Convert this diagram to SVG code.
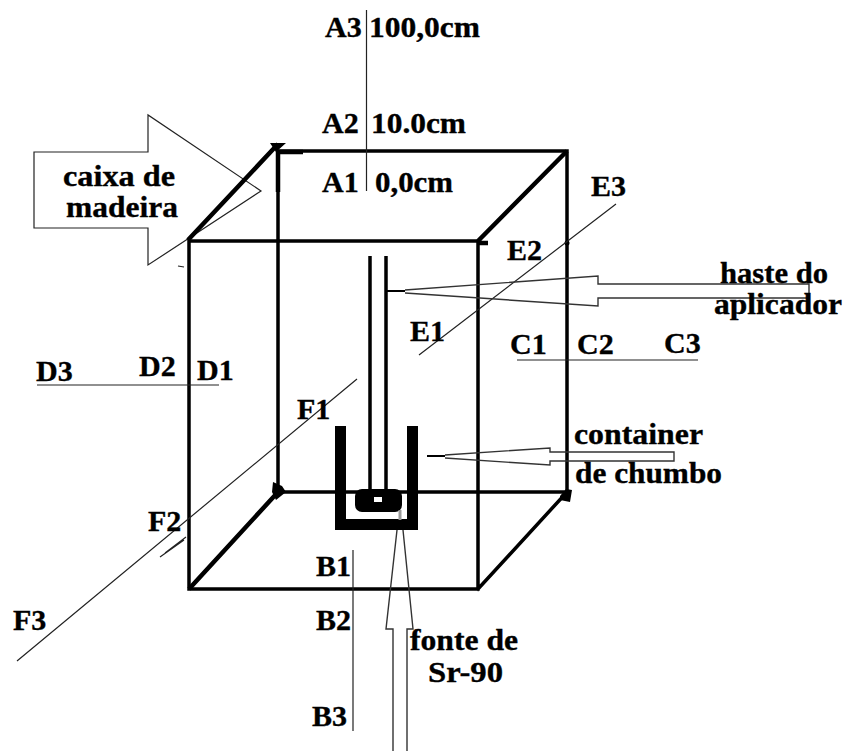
<svg xmlns="http://www.w3.org/2000/svg" width="846" height="751" viewBox="0 0 846 751">
<style>
text{font-family:"Liberation Serif","Times New Roman",serif;font-weight:bold;font-size:30px;fill:#000;stroke:#000;stroke-width:.35}
.thin{fill:none;stroke:#222;stroke-width:1.2}
.gray{fill:none;stroke:#333;stroke-width:1.4}
.box{fill:none;stroke:#000;stroke-width:3.5;stroke-linecap:square}
.heavy{fill:none;stroke:#000;stroke-width:4.500}
</style>
<rect width="846" height="751" fill="#fff"/>
<g id="caixa-arrow">
<polygon class="thin" points="34,152 148,152 148,115 261,191 148,265 148,228 34,228"/>
<text x="63" y="186" textLength="112" lengthAdjust="spacingAndGlyphs">caixa de</text>
<text x="66" y="217" textLength="112" lengthAdjust="spacingAndGlyphs">madeira</text>
</g>
<g id="box">
<path class="box" d="M278,151H567V492H278ZM189,241H478V589H189ZM478,589L567,492"/>
<path class="heavy" d="M188,240L278,144M478,241L567,151M189,589L278,492M278,151V192M278,152H303M478,243H488"/>
<path d="M270,143H286L276,152ZM273,482L282,486L286,492L276,500L272,492ZM560,496L566,489L572,490L570,502L560,500Z" fill="#000"/>
<path class="thin" d="M178,266L184,267"/>
<circle cx="567" cy="243" r="2.5" fill="#000"/>
</g>
<g id="applicator">
<path d="M370,256V490M386,256V490" fill="none" stroke="#000" stroke-width="3.5"/>
</g>
<g id="container">
<path d="M335,426H346V519H407V426H418V530H335Z" fill="#000"/>
</g>
<g id="source">
<rect x="355" y="489" width="47" height="23" rx="7" fill="#000"/>
<rect x="374" y="497" width="8" height="5" fill="#fff"/>
<path d="M400,510V520" stroke="#999" stroke-width="3" fill="none"/>
</g>
<g id="connectors">
<path class="thin" d="M366.500,10V191M37,385H219M517,360H698M616,204L419,355M357,379L17,661M353,550V731" />
<path class="thin" d="M160,557L184,540M165,553L186,537"/>
<path d="M386,291H405M427,456H445" stroke="#000" stroke-width="2" fill="none"/>
<path class="gray" d="M405,290L598,276V284H809V298H598V306L405,293"/>
<path class="gray" d="M445,455L550,448V452H674V461H550V465L445,458"/>
<path class="gray" d="M397,530L386,629H393V751M407,751V629H413L403,530"/>
</g>
<g id="labels">
<text x="325" y="37">A3</text><text x="369" y="37" textLength="111" lengthAdjust="spacingAndGlyphs">100,0cm</text>
<text x="322" y="133">A2</text><text x="371" y="133" textLength="95" lengthAdjust="spacingAndGlyphs">10.0cm</text>
<text x="322" y="192">A1</text><text x="375" y="192" textLength="78" lengthAdjust="spacingAndGlyphs">0,0cm</text>
<text x="36" y="381">D3</text><text x="139" y="376">D2</text><text x="197" y="380">D1</text>
<text x="510" y="354">C1</text><text x="577" y="354">C2</text><text x="664" y="353">C3</text>
<text x="591" y="196">E3</text><text x="507" y="260">E2</text><text x="410" y="341">E1</text>
<text x="297" y="419">F1</text><text x="148" y="531">F2</text><text x="13" y="630">F3</text>
<text x="316" y="576">B1</text><text x="316" y="630">B2</text><text x="312" y="726">B3</text>
<text x="720" y="283" textLength="108" lengthAdjust="spacingAndGlyphs">haste do</text><text x="714" y="314" textLength="128" lengthAdjust="spacingAndGlyphs">aplicador</text>
<text x="574" y="444" textLength="129" lengthAdjust="spacingAndGlyphs">container</text><text x="575" y="483" textLength="147" lengthAdjust="spacingAndGlyphs">de chumbo</text>
<text x="410" y="650" textLength="108" lengthAdjust="spacingAndGlyphs">fonte de</text><text x="428" y="682" textLength="75" lengthAdjust="spacingAndGlyphs">Sr-90</text>
</g>
</svg>
